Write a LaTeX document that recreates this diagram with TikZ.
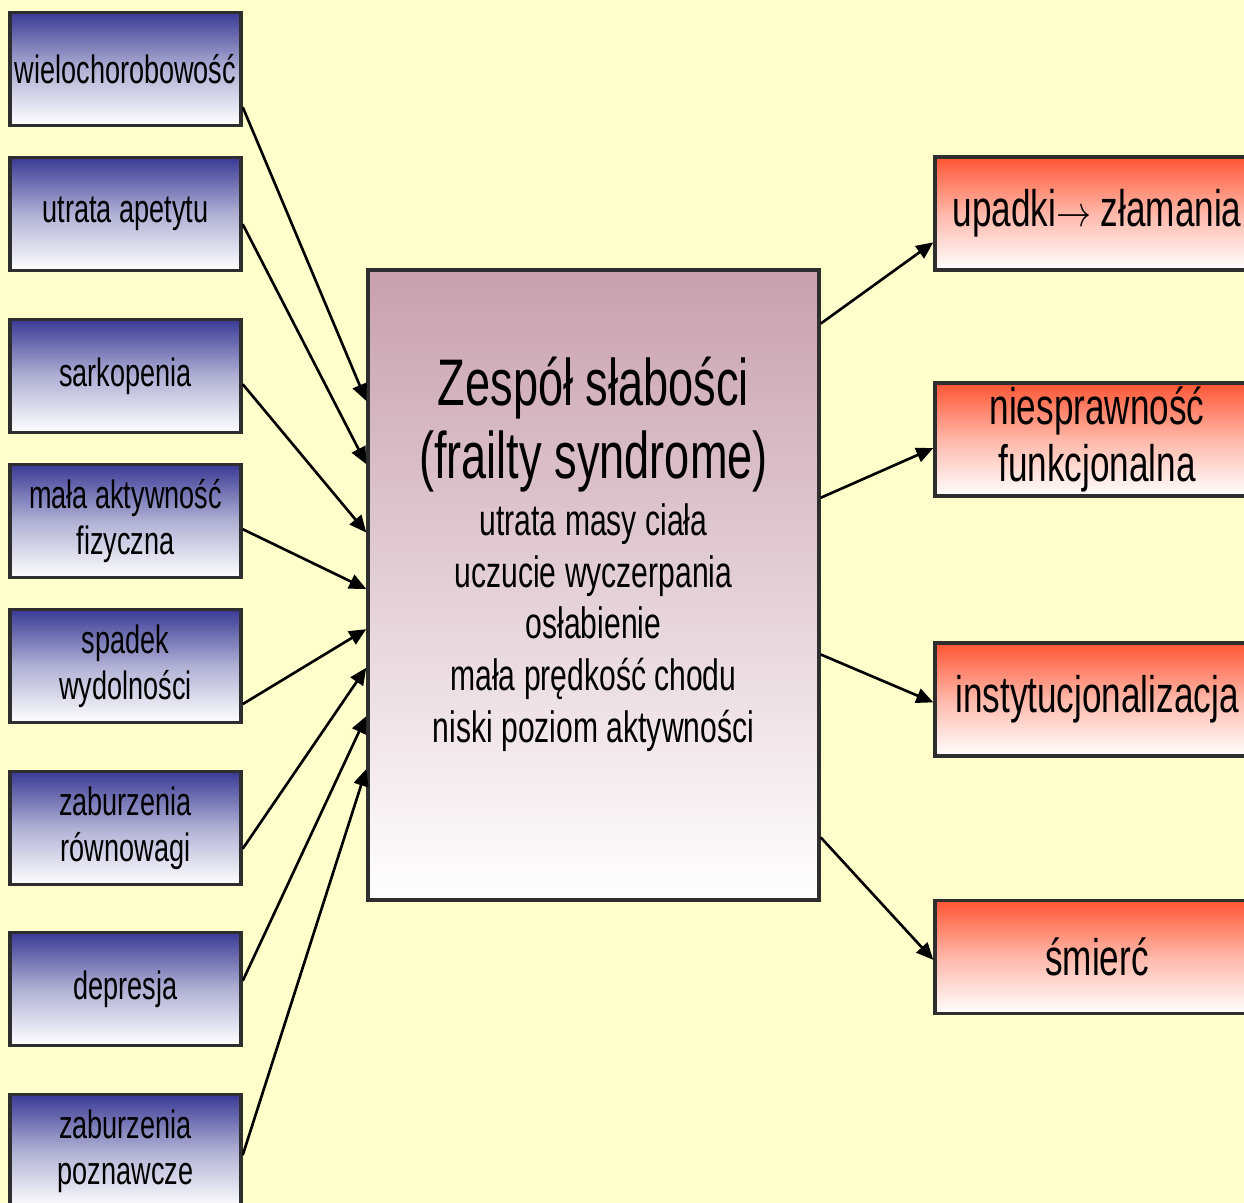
\documentclass[tikz,border=0pt]{standalone}
\usepackage{fontspec}
\setmainfont[FakeStretch=0.685]{Liberation Sans}
\usepackage{tikz}
\usetikzlibrary{shapes,arrows.meta}

\definecolor{tlo}{HTML}{FFFFCC}
\definecolor{ramka}{HTML}{2E2E2E}
\definecolor{niebieski}{HTML}{3A3A96}
\definecolor{fiolet}{HTML}{C8A0AE}
\definecolor{czerwony}{HTML}{FF5533}

\newcommand{\tytul}{\fontsize{37.5}{41.4}\selectfont}
\newcommand{\objaw}{\fontsize{25}{29.5}\selectfont}
\newcommand{\strz}{\scalebox{0.8}[1]{$\rightarrow$}}

\begin{document}
\begin{tikzpicture}[x=0.02cm,y=-0.02cm,>={Triangle[length=0.34cm,width=0.3cm]},
		przyczyna/.style={rectangle,draw=ramka,line width=2pt,minimum width=4.62cm,minimum height=2.26cm,inner sep=0pt,top color=niebieski,bottom color=white,middle color=niebieski!40!white,align=center,font=\fontsize{22.5}{26}\selectfont},
		skutek/.style={rectangle,draw=ramka,line width=2pt,minimum width=6.48cm,minimum height=2.26cm,inner sep=0pt,top color=czerwony,bottom color=white,middle color=czerwony!42!white,align=center,font=\fontsize{29.2}{32.3}\selectfont},
		strzalka/.style={->,draw,line width=1.5pt}]
			\useasboundingbox[fill=tlo] (0,0) rectangle (1244,1203);
			
			% przyczyny
			\node[przyczyna] (wielo) at (125.5,69) {wielochorobowość};
			\node[przyczyna] (apetyt) at (125.5,214) {utrata apetytu};
			\node[przyczyna] (sarko) at (125.5,376) {sarkopenia};
			\node[przyczyna] (aktyw) at (125.5,521) {mała aktywność\\fizyczna};
			\node[przyczyna] (wydol) at (125.5,666) {spadek\\wydolności};
			\node[przyczyna] (rownow) at (125.5,828) {zaburzenia\\równowagi};
			\node[przyczyna] (depr) at (125.5,989) {depresja};
			\node[przyczyna] (pozn) at (125.5,1151) {zaburzenia\\poznawcze};
			
			% zespol
			\node[rectangle,draw=ramka,line width=2pt,minimum width=9.02cm,minimum height=12.6cm,top color=fiolet,bottom color=white] (zespol) at (593.5,585) {};
			\node[anchor=north,align=center,inner sep=0pt,font=\tytul] (tytul) at (593.5,357) {Zespół słabości\\(frailty syndrome)};
			\node[anchor=north,align=center,inner sep=0pt,font=\objaw] (objawy) at (593.5,503) {utrata masy ciała\\uczucie wyczerpania\\osłabienie\\mała prędkość chodu\\niski poziom aktywności};
			
			% skutki
			\node[skutek] (upadki) at (1097,213.5) {upadki\strz{} złamania};
			\node[skutek] (niespr) at (1097,439.5) {niesprawność\\funkcjonalna};
			\node[skutek] (instyt) at (1097,699.5) {instytucjonalizacja};
			\node[skutek] (smierc) at (1097,957) {śmierć};
			
			\path[strzalka] (wielo.-18.7) -- (zespol.141.1);
			\path[strzalka] (apetyt.-5.4) -- (zespol.152.6);
			\path[strzalka] (sarko.-4.5) -- (zespol.167.5);
			\path[strzalka] (aktyw.-4.5) -- (zespol.181.3);
			\path[strzalka] (wydol.-18.7) -- (zespol.191.3);
			\path[strzalka] (rownow.-10.8) -- (zespol.200.2);
			\path[strzalka] (depr.4.5) -- (zespol.210.5);
			\path[strzalka] (pozn.-2) -- (zespol.219.1);
			
			\path[strzalka] (zespol.49.8) -- (upadki.190);
			\path[strzalka] (zespol.21.8) -- (niespr.183.7);
			\path[strzalka] (zespol.-17.9) -- (instyt.181.9);
			\path[strzalka] (zespol.-48.1) -- (smierc.181.8);
		\end{tikzpicture}
\end{document}
